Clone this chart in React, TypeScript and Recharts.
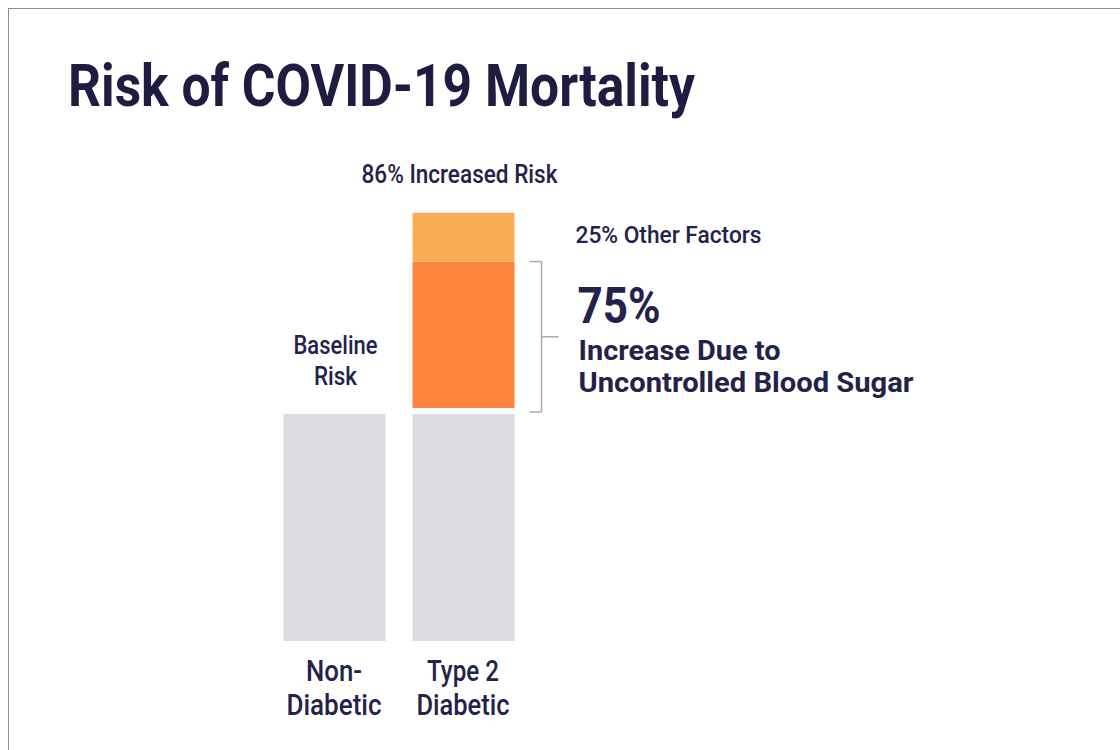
import React from 'react';
import { BarChart, Bar, XAxis, YAxis, LabelList } from 'recharts';

const categories = ['Non-Diabetic', 'Type 2 Diabetic'];
const tickLines = [['Non-', 'Diabetic'], ['Type 2', 'Diabetic']];
const tickWidths = [[56, 95], [72, 93]];
const baselineRisk = [100, 100];
const bloodSugarIncrease = [0, 64.5];
const otherFactorsIncrease = [0, 21.5];

const data = categories.map((c, i) => ({
  name: c,
  baseline: baselineRisk[i],
  bloodSugar: bloodSugarIncrease[i],
  other: otherFactorsIncrease[i],
}));

const NAVY = '#24224b';
const FONT = 'Roboto, "Liberation Sans", sans-serif';
const GAP = 6;
const LW = 500;

const ShiftedRect = (props: any) => {
  const { x, y, width, height, fill } = props;
  if (!height || height <= 0) return null;
  return <rect x={x} y={y - GAP} width={width} height={height} fill={fill} />;
};

const CTick = (props: any) => {
  const { x, y, index } = props;
  const lines = tickLines[index] || [];
  return (
    <g>
      {lines.map((l, k) => {
        const w = tickWidths[index][k];
        return (
          <text key={k} x={x - w / 2} y={y + 32 + k * 34} fontSize={29} fontWeight={LW} fontFamily={FONT} fill={NAVY}
            textLength={w} lengthAdjust="spacingAndGlyphs">{l}</text>
        );
      })}
    </g>
  );
};

const BaselineLabel = (props: any) => {
  const { x, y, width, index } = props;
  if (index !== 0) return null;
  const cx = x + width / 2 + 1;
  return (
    <g>
      <text x={cx - 42} y={y - 60} fontSize={26} fontWeight={LW} fontFamily={FONT} fill={NAVY} textLength={84} lengthAdjust="spacingAndGlyphs">Baseline</text>
      <text x={cx - 21.5} y={y - 29} fontSize={26} fontWeight={LW} fontFamily={FONT} fill={NAVY} textLength={43} lengthAdjust="spacingAndGlyphs">Risk</text>
    </g>
  );
};

const OtherLabel = (props: any) => {
  const { x, y, width, height, index } = props;
  if (index !== 1 || !height) return null;
  const top = y - GAP;
  const cx = x + width / 2 - 4;
  return (
    <g>
      <text x={cx - 98} y={top - 30} fontSize={25} fontWeight={LW} fontFamily={FONT} fill={NAVY} textLength={196} lengthAdjust="spacingAndGlyphs">86% Increased Risk</text>
      <text x={x + width + 61} y={top + 30} fontSize={24} fontWeight={LW} fontFamily={FONT} fill={NAVY} textLength={186} lengthAdjust="spacingAndGlyphs">25% Other Factors</text>
    </g>
  );
};

const SugarLabel = (props: any) => {
  const { x, y, width, height, index } = props;
  if (index !== 1 || !height) return null;
  const top = y - GAP;
  const bottom = y + height - GAP + 4;
  const bx = x + width + 27;
  const mid = (top + bottom) / 2;
  const stroke = '#aaa9b9';
  return (
    <g>
      <line x1={bx} y1={top} x2={bx} y2={bottom} stroke={stroke} strokeWidth={1.5} />
      <line x1={bx - 12} y1={top} x2={bx} y2={top} stroke={stroke} strokeWidth={1.5} />
      <line x1={bx - 12} y1={bottom} x2={bx} y2={bottom} stroke={stroke} strokeWidth={1.5} />
      <line x1={bx} y1={mid} x2={bx + 17} y2={mid} stroke={stroke} strokeWidth={1.5} />
      <text x={x + width + 63} y={top + 61} fontSize={50} fontWeight={700} fontFamily={FONT} fill={NAVY} textLength={83} lengthAdjust="spacingAndGlyphs">75%</text>
      <text x={x + width + 64} y={top + 98} fontSize={28} fontWeight={700} fontFamily={FONT} fill={NAVY} textLength={202} lengthAdjust="spacingAndGlyphs">Increase Due to</text>
      <text x={x + width + 64} y={top + 130} fontSize={28} fontWeight={700} fontFamily={FONT} fill={NAVY} textLength={335} lengthAdjust="spacingAndGlyphs">Uncontrolled Blood Sugar</text>
    </g>
  );
};

export default function App() {
  return (
    <div style={{ position: 'absolute', left: 0, top: 0, width: 1120, height: 750, background: '#fff', overflow: 'hidden' }}>
      <div style={{ position: 'absolute', left: 8, top: 8, width: 1112, height: 742, borderTop: '1.5px solid #8d8ba3', borderLeft: '1.5px solid #8d8ba3' }} />
      <svg width={1120} height={130} style={{ position: 'absolute', left: 0, top: 0 }}>
        <text x={68} y={106} fontSize={60} fontWeight={700} fontFamily={FONT} fill="#1e1c40" textLength={627} lengthAdjust="spacingAndGlyphs">Risk of COVID-19 Mortality</text>
      </svg>
      <div style={{ position: 'absolute', left: 0, top: 0 }}>
        <BarChart width={1120} height={750} data={data} margin={{ top: 187, right: 592.5, bottom: 0, left: 269.5 }}>
          <YAxis hide width={0} domain={[0, 200]} />
          <XAxis dataKey="name" height={109} axisLine={false} tickLine={false} tick={<CTick />} interval={0} />
          <Bar dataKey="baseline" stackId="a" fill="#dcdbe2" barSize={102} isAnimationActive={false}>
            <LabelList dataKey="baseline" content={<BaselineLabel />} />
          </Bar>
          <Bar dataKey="bloodSugar" stackId="a" fill="#fe843c" barSize={102} shape={<ShiftedRect />} isAnimationActive={false}>
            <LabelList dataKey="bloodSugar" content={<SugarLabel />} />
          </Bar>
          <Bar dataKey="other" stackId="a" fill="#fbad56" barSize={102} shape={<ShiftedRect />} isAnimationActive={false}>
            <LabelList dataKey="other" content={<OtherLabel />} />
          </Bar>
        </BarChart>
      </div>
    </div>
  );
}
